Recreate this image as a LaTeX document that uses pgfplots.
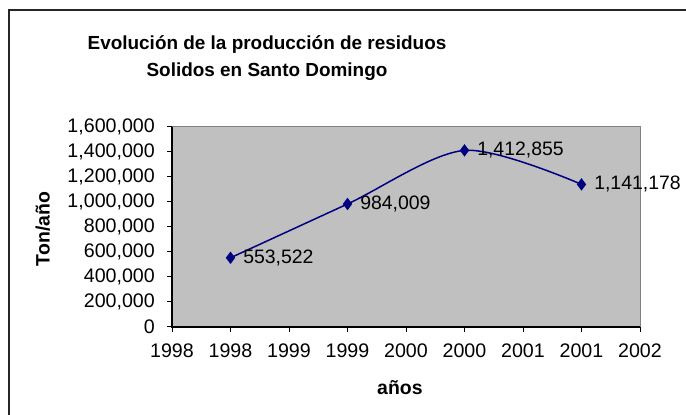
\documentclass[border=0pt]{standalone}
\usepackage{pgfplots}
\pgfplotsset{compat=1.18}
\usepackage{fontspec}
\setmainfont{Liberation Sans}
\definecolor{plotgray}{RGB}{192,192,192}
\definecolor{bordergray}{RGB}{128,128,128}
\definecolor{linenavy}{RGB}{0,0,128}
\begin{document}
\begin{tikzpicture}
\useasboundingbox (0,0) rectangle (686bp,415bp);
\fill[white] (0,0) rectangle (686bp,415bp);
\draw[line width=1.2bp, black!85] (9bp,0bp) -- (9bp,405bp) -- (686bp,405bp);
\begin{axis}[
  at={(172bp,88bp)}, anchor=south west,
  scale only axis, width=468bp, height=200bp,
  xmin=0, xmax=8, ymin=0, ymax=1600000,
  xtick={0,1,2,3,4,5,6,7,8},
  xticklabels={1998,1998,1999,1999,2000,2000,2001,2001,2002},
  ytick={0,200000,400000,600000,800000,1000000,1200000,1400000,1600000},
  scaled y ticks=false,
  /pgf/number format/assume math mode=true,
  yticklabel style={/pgf/number format/fixed, /pgf/number format/1000 sep={,}, inner sep=0pt, xshift=-12bp},
  xticklabel style={inner sep=0pt, yshift=-12bp},
  ticklabel style={font=\fontsize{19.7}{22}\selectfont},
  tick align=outside, tick pos=left,
  major tick length=5bp,
  tick style={black, line width=1bp},
  axis line style={bordergray, line width=1bp},
  axis background/.style={fill=plotgray},
  title={Evolución de la producción de residuos\\Solidos en Santo Domingo},
  title style={at={(axis description cs:0.203,1.315)}, anchor=center, align=center, font=\fontsize{19}{28}\selectfont\bfseries},
  xlabel={años},
  xlabel style={at={(axis description cs:0.487,-0.305)}, anchor=center, font=\fontsize{19.5}{22}\selectfont\bfseries},
  ylabel={Ton/año},
  ylabel style={at={(axis description cs:-0.276,0.49)}, anchor=center, rotate=0, font=\fontsize{19.5}{22}\selectfont\bfseries},
  clip=false,
]
\draw[black, line width=1.2bp] (rel axis cs:0,1) -- (rel axis cs:0,0) -- (rel axis cs:1,0);
\addplot[linenavy, line width=1.5bp, smooth, tension=0.5,
  mark=diamond*, mark size=5bp, mark options={fill=linenavy, draw=linenavy},
  point meta=explicit symbolic,
  nodes near coords,
  every node near coord/.style={anchor=west, inner sep=0pt, xshift=12bp, black, font=\fontsize{19.5}{22}\selectfont},
] table[meta=label] {
x y label
1 553522 553,522
3 984009 984,009
5 1412855 1,412,855
7 1141178 1,141,178
};
\end{axis}
\end{tikzpicture}
\end{document}
